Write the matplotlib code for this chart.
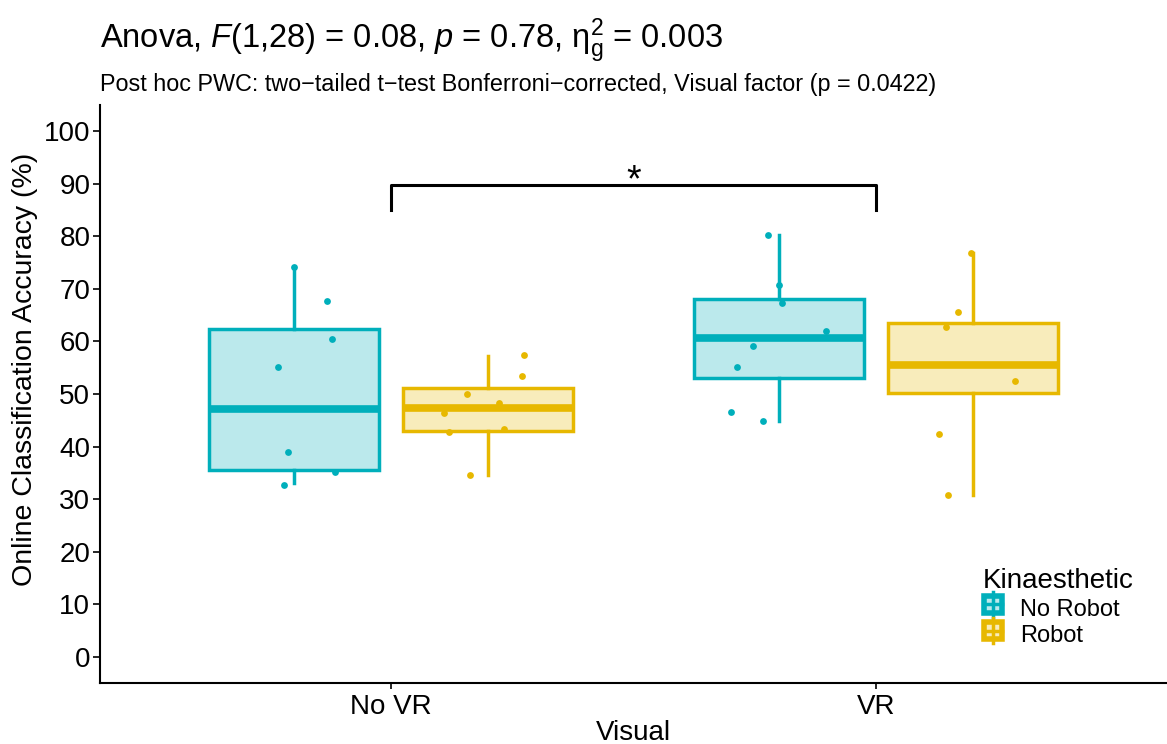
import matplotlib
matplotlib.use("Agg")
import matplotlib.pyplot as plt
from matplotlib.patches import Patch, Rectangle
from matplotlib.lines import Line2D
from matplotlib.legend_handler import HandlerBase

plt.rcParams["font.family"] = ["Liberation Sans", "DejaVu Sans"]
plt.rcParams["mathtext.fontset"] = "custom"
plt.rcParams["mathtext.rm"] = "Liberation Sans"
plt.rcParams["mathtext.it"] = "Liberation Sans:italic"

visual = ["No VR", "VR"]
kinaesthetic = ["No Robot", "Robot"]
colors = {"No Robot": "#00AFBB", "Robot": "#E7B800"}

# box stats per (visual, kinaesthetic): whislo, q1, median, q3, whishi
box_stats = {
    ("No VR", "No Robot"): [33.1, 35.5, 47.1, 62.4, 74.1],
    ("No VR", "Robot"): [34.6, 43.0, 47.3, 51.1, 57.2],
    ("VR", "No Robot"): [44.9, 53.0, 60.6, 68.1, 80.2],
    ("VR", "Robot"): [30.8, 50.2, 55.5, 63.5, 76.8],
}

# individual accuracies (jittered points)
points = {
    ("No VR", "No Robot"): [74.1, 67.7, 60.5, 55.1, 39.0, 35.2, 32.7],
    ("No VR", "Robot"): [57.4, 53.4, 50.0, 48.3, 46.4, 42.8, 43.3, 34.6],
    ("VR", "No Robot"): [80.2, 70.7, 67.3, 62.0, 59.1, 55.1, 46.6, 44.9],
    ("VR", "Robot"): [76.8, 65.6, 62.7, 52.5, 42.4, 30.8],
}
jitter = {
    ("No VR", "No Robot"): [0.0, 0.068, 0.078, -0.032, -0.012, 0.085, -0.02],
    ("No VR", "Robot"): [0.075, 0.071, -0.044, 0.022, -0.091, -0.081, 0.034, -0.036],
    ("VR", "No Robot"): [-0.022, 0.001, 0.007, 0.098, -0.054, -0.087, -0.098, -0.032],
    ("VR", "Robot"): [-0.003, -0.030, -0.056, 0.087, -0.069, -0.052],
}

dodge = 0.2
box_w = 0.35


class BoxKey(HandlerBase):
    # small boxplot glyph like the ggplot legend key
    def create_artists(self, legend, orig, xd, yd, width, height, fontsize, trans):
        c = orig.get_edgecolor()
        cx = xd + width / 2
        w1 = Line2D([cx, cx], [yd - 2, yd + height + 2], color=c, lw=2.5, transform=trans)
        box = Rectangle((xd + 1, yd + 1), width - 2, height - 2, facecolor=orig.get_facecolor(),
                        edgecolor=c, lw=4, transform=trans)
        med = Line2D([xd + 1, xd + width - 1], [yd + height / 2] * 2, color=c, lw=2.5,
                     transform=trans)
        return [w1, box, med]


fig = plt.figure(figsize=(11.67, 7.44), dpi=100)
ax = fig.add_axes([0.0857, 0.082, 0.914, 0.777])

for i, v in enumerate(visual):
    for j, k in enumerate(kinaesthetic):
        pos = i + 1 + (j - 0.5) * 2 * dodge
        lo, q1, med, q3, hi = box_stats[(v, k)]
        c = colors[k]
        ax.bxp([{"whislo": lo, "q1": q1, "med": med, "q3": q3, "whishi": hi, "fliers": []}],
               positions=[pos], widths=box_w, patch_artist=True, showcaps=False,
               boxprops=dict(facecolor=c + "44", edgecolor=c, linewidth=2.5),
               whiskerprops=dict(color=c, linewidth=2.5),
               medianprops=dict(color=c, linewidth=5.5), zorder=2)
        xs = [pos + d for d in jitter[(v, k)]]
        ax.scatter(xs, points[(v, k)], s=24, color=c, zorder=3, linewidths=0)

# significance bracket
ax.plot([1, 1, 2, 2], [85, 89.8, 89.8, 85], color="black", linewidth=2.2)
ax.text(1.5, 88.6, "*", ha="center", va="baseline", fontsize=27)

ax.set_xlim(0.4, 2.6)
ax.set_ylim(-5, 105)
ax.set_xticks([1, 2])
ax.set_xticklabels(visual, fontsize=20)
ax.set_yticks(range(0, 101, 10))
ax.tick_params(axis="y", labelsize=20, length=5, width=1.2, pad=2)
ax.tick_params(axis="x", length=4, width=1.2, pad=4)
for s in ["top", "right"]:
    ax.spines[s].set_visible(False)
for s in ["left", "bottom"]:
    ax.spines[s].set_linewidth(1.5)
ax.set_xlabel("Visual", fontsize=20, labelpad=0)
ax.set_ylabel("Online Classification Accuracy (%)", fontsize=20.5)
ax.yaxis.set_label_coords(-0.058, 0.543)

fig.text(0.0857, 0.935, r"Anova, $\mathit{F}$(1,28) = 0.08, $\mathit{p}$ = 0.78, $\mathrm{\eta}^2_\mathrm{g}$ = 0.003",
         fontsize=23.5, ha="left", va="baseline")
fig.text(0.0857, 0.878, "Post hoc PWC: two\u2212tailed t\u2212test Bonferroni\u2212corrected, Visual factor (p = 0.0422)",
         fontsize=16.8, ha="left", va="baseline")

handles = [Patch(facecolor=colors[k] + "44", edgecolor=colors[k]) for k in kinaesthetic]
leg = fig.legend(handles, kinaesthetic, title="Kinaesthetic", loc="lower left",
                 bbox_to_anchor=(0.842, 0.13), frameon=False, fontsize=17, title_fontsize=20,
                 handlelength=0.9, handleheight=0.9, labelspacing=0.15, handletextpad=0.7,
                 borderpad=0, borderaxespad=0, handler_map={Patch: BoxKey()})
leg._legend_box.align = "left"

fig.savefig("out.png", dpi=100)
plt.close(fig)
